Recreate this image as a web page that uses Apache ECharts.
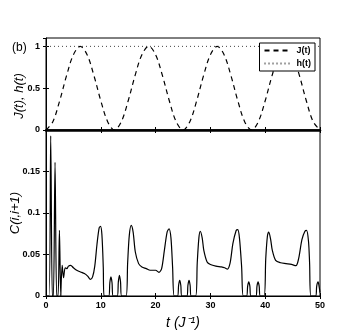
<!DOCTYPE html>
<html>
<head>
<meta charset="utf-8">
<script src="https://cdn.jsdelivr.net/npm/echarts@6/dist/echarts.min.js"></script>
<style>
html, body { margin: 0; padding: 0; background: #fff; }
#chart { width: 354px; height: 333px; }
</style>
</head>
<body>
<div id="chart"></div>
<script>
// J(t) and h(t) (t step 1.25)
var jT = [0,1.25,2.5,3.75,5,6.25,7.5,8.75,10,11.25,12.5,13.75,15,16.25,17.5,18.75,20,21.25,22.5,23.75,25,
          26.25,27.5,28.75,30,31.25,32.5,33.75,35,36.25,37.5,38.75,40,41.25,42.5,43.75,45,46.25,47.5,48.75,50];
var jVal = [0,0.1,0.35,0.65,0.9,1,0.9,0.65,0.35,0.1,0,0.1,0.35,0.65,0.9,1,0.9,0.65,0.35,0.1,0,
            0.1,0.35,0.65,0.9,1,0.9,0.65,0.35,0.1,0,0.1,0.35,0.65,0.9,1,0.9,0.65,0.35,0.1,0];
var hT = [0, 50];
var hVal = [1, 1];

// C(i,i+1), lower panel, [t, value]
var cData = [
  [0,0],[0.55,0],[0.86,0.193],[1.15,0],[1.35,0],[1.65,0.161],[1.95,0],[2.2,0],[2.45,0.079],[2.7,0],
  [2.8,0],[2.95,0.037],[3.2,0.022],[3.5,0.034],[3.8,0.033],[4.1,0.036],[4.5,0.037],[5.0,0.034],
  [5.6,0.031],[6.3,0.029],[7.0,0.027],[7.6,0.024],[8.1,0.020],[8.5,0.023],[8.9,0.036],[9.3,0.062],
  [9.7,0.082],[9.95,0.084],[10.2,0.074],[10.45,0.035],[10.6,0],
  [11.45,0],[11.65,0.016],[11.85,0.023],[12.05,0.016],[12.25,0],
  [13.0,0],[13.2,0.017],[13.4,0.025],[13.6,0.017],[13.8,0],
  [14.6,0],[14.9,0.04],[15.2,0.073],[15.55,0.085],[15.9,0.077],[16.3,0.053],[16.9,0.039],[17.5,0.035],
  [18.3,0.033],[19.0,0.031],[20.0,0.031],[20.6,0.0285],[21.1,0.033],[21.6,0.055],[22.1,0.077],
  [22.45,0.081],[22.8,0.07],[23.1,0.035],[23.4,0],
  [24.0,0],[24.2,0.013],[24.4,0.019],[24.6,0.013],[24.8,0],
  [25.7,0],[25.9,0.013],[26.1,0.019],[26.3,0.013],[26.5,0],
  [27.3,0],[27.6,0.04],[27.9,0.07],[28.15,0.078],[28.5,0.07],[28.8,0.055],[29.4,0.041],[30.0,0.038],
  [31.0,0.036],[32.0,0.035],[32.6,0.034],[33.1,0.0325],[33.6,0.04],[34.1,0.063],[34.7,0.079],
  [35.0,0.080],[35.3,0.07],[35.7,0.035],[36.0,0],
  [36.6,0],[36.8,0.012],[37.0,0.017],[37.2,0.012],[37.4,0],
  [38.3,0],[38.5,0.012],[38.7,0.017],[38.9,0.012],[39.1,0],
  [39.8,0],[40.1,0.045],[40.4,0.072],[40.65,0.077],[41.0,0.068],[41.3,0.055],[41.9,0.043],[42.8,0.040],
  [43.8,0.039],[44.8,0.038],[45.6,0.0365],[46.1,0.045],[46.7,0.068],[47.25,0.078],[47.55,0.079],
  [47.9,0.066],[48.1,0.04],[48.35,0],
  [49.2,0],[49.4,0.012],[49.65,0.017],[49.85,0.011],[50,0.004]
];

var jData = jT.map(function (t, i) { return [t, jVal[i]]; });
var hData = hT.map(function (t, i) { return [t, hVal[i]]; });

var chart = echarts.init(document.getElementById('chart'));

var font = 'Liberation Sans, Arial, sans-serif';
var lbl = { color: '#000', fontSize: 9, fontWeight: 'bold', fontFamily: font };
var nameStyle = { color: '#000', fontSize: 13, fontStyle: 'italic', fontFamily: font };
var tick = { show: true, inside: true, length: 3, lineStyle: { color: '#000' } };

var option = {
  animation: false,
  backgroundColor: '#fff',
  title: {
    text: '(b)', left: 7, top: 37,
    textStyle: { color: '#000', fontSize: 12, fontWeight: 'normal', fontFamily: font }
  },
  legend: {
    orient: 'vertical', right: 39, top: 43, align: 'left',
    backgroundColor: '#fff', borderColor: '#000', borderWidth: 1,
    padding: [3, 4, 3, 4], itemGap: 4, itemWidth: 27, itemHeight: 8,
    itemStyle: { opacity: 0 },
    textStyle: { color: '#000', fontSize: 9, fontWeight: 'bold', fontFamily: font },
    data: ['J(t)', 'h(t)']
  },
  grid: [
    { left: 46, right: 34, top: 38, height: 92, show: true, borderColor: '#000', borderWidth: 1,
      outerBoundsMode: 'none' },
    { left: 46, right: 34, top: 130, height: 166, show: true, borderColor: '#000', borderWidth: 1,
      outerBoundsMode: 'none' }
  ],
  xAxis: [
    { type: 'value', gridIndex: 0, min: 0, max: 50, interval: 10,
      axisLine: { show: true, lineStyle: { color: '#000', width: 2.5 } },
      axisTick: tick, axisLabel: { show: false }, splitLine: { show: false } },
    { type: 'value', gridIndex: 1, min: 0, max: 50, interval: 10,
      axisLine: { show: true, lineStyle: { color: '#000' } },
      axisTick: tick, axisLabel: Object.assign({ margin: 5 }, lbl), splitLine: { show: false },
      name: 't (J⁻¹)', nameLocation: 'middle', nameGap: 20, nameMoveOverlap: false,
      nameTextStyle: Object.assign({}, nameStyle, { fontSize: 14 }) },
    { type: 'value', gridIndex: 0, position: 'top', min: 0, max: 50, interval: 10,
      axisLine: { show: false }, axisTick: tick, axisLabel: { show: false }, splitLine: { show: false } },
    { type: 'value', gridIndex: 1, position: 'top', min: 0, max: 50, interval: 10,
      axisLine: { show: false }, axisTick: tick, axisLabel: { show: false }, splitLine: { show: false } }
  ],
  yAxis: [
    { type: 'value', gridIndex: 0, min: 0, max: 1.1, interval: 0.5,
      axisLine: { show: true, lineStyle: { color: '#000' } },
      axisTick: tick, splitLine: { show: false },
      axisLabel: Object.assign({ margin: 6, showMaxLabel: false }, lbl),
      name: 'J(t), h(t){g|}', nameLocation: 'middle', nameGap: 20, nameMoveOverlap: false,
      nameTextStyle: Object.assign({ rich: { g: { width: 24 } } }, nameStyle) },
    { type: 'value', gridIndex: 1, min: 0, max: 0.2, interval: 0.05,
      axisLine: { show: true, lineStyle: { color: '#000' } },
      axisTick: tick, splitLine: { show: false },
      axisLabel: Object.assign({ margin: 6, showMaxLabel: false }, lbl),
      name: 'C(i,i+1)', nameLocation: 'middle', nameGap: 24, nameMoveOverlap: false,
      nameTextStyle: nameStyle },
    { type: 'value', gridIndex: 0, position: 'right', min: 0, max: 1.1, interval: 0.5,
      axisLine: { show: false }, axisTick: tick, axisLabel: { show: false }, splitLine: { show: false } },
    { type: 'value', gridIndex: 1, position: 'right', min: 0, max: 0.2, interval: 0.05,
      axisLine: { show: false }, axisTick: tick, axisLabel: { show: false }, splitLine: { show: false } }
  ],
  series: [
    { name: 'J(t)', type: 'line', xAxisIndex: 0, yAxisIndex: 0, data: jData,
      smooth: 0.35, showSymbol: false, symbol: 'none',
      lineStyle: { color: '#000', width: 1.2, type: [5, 4] }, itemStyle: { color: '#000' } },
    { name: 'h(t)', type: 'line', xAxisIndex: 0, yAxisIndex: 0, data: hData,
      showSymbol: false, symbol: 'none',
      lineStyle: { color: '#444', width: 1, type: [1, 3] }, itemStyle: { color: '#444' } },
    { name: 'C', type: 'line', xAxisIndex: 1, yAxisIndex: 1, data: cData,
      smooth: 0.3, showSymbol: false, symbol: 'none',
      lineStyle: { color: '#000', width: 1.2 } }
  ]
};

chart.setOption(option);
</script>
</body>
</html>
